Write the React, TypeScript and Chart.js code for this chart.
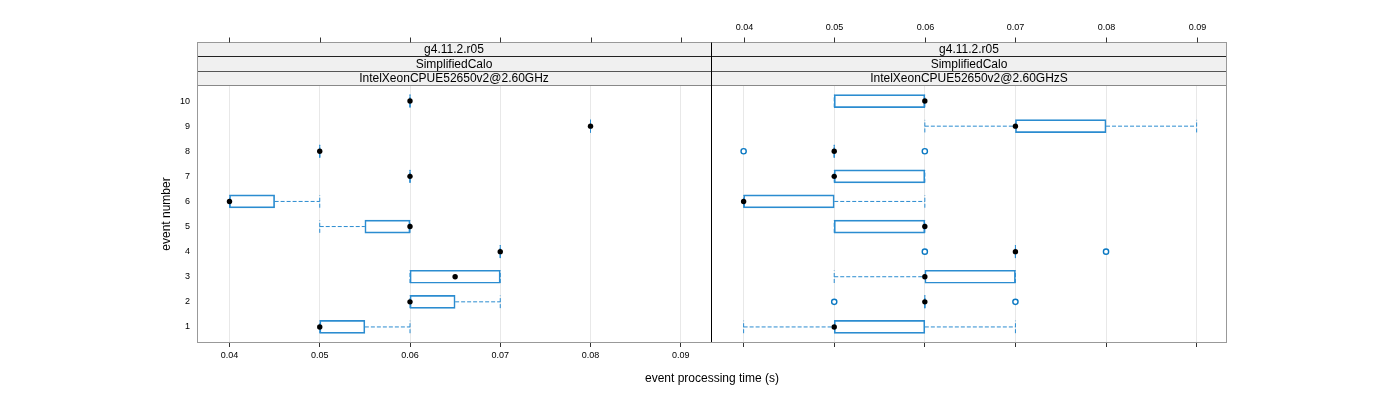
import React, { useEffect, useRef } from "react";
import { Chart, registerables } from "chart.js";

Chart.register(...registerables);

// ---------- data ----------
const events = [1, 2, 3, 4, 5, 6, 7, 8, 9, 10];
const xTickValues = [0.04, 0.05, 0.06, 0.07, 0.08, 0.09];

const stripRelease = "g4.11.2.r05";
const stripGeometry = "SimplifiedCalo";
const leftMachine = "IntelXeonCPUE52650v2@2.60GHz";
const rightMachine = "IntelXeonCPUE52650v2@2.60GHzS";

const xTitle = "event processing time (s)";
const yTitle = "event number";

// left panel (per event 1..10)
const leftLow = [0.05, 0.06, 0.06, 0.07, 0.05, 0.04, 0.06, 0.05, 0.08, 0.06];
const leftQ1 = [0.05, 0.06, 0.06, 0.07, 0.055, 0.04, 0.06, 0.05, 0.08, 0.06];
const leftMedian = [0.05, 0.06, 0.065, 0.07, 0.06, 0.04, 0.06, 0.05, 0.08, 0.06];
const leftQ3 = [0.055, 0.065, 0.07, 0.07, 0.06, 0.045, 0.06, 0.05, 0.08, 0.06];
const leftHigh = [0.06, 0.07, 0.07, 0.07, 0.06, 0.05, 0.06, 0.05, 0.08, 0.06];
const leftOutEvent: number[] = [];
const leftOutValue: number[] = [];

// right panel (per event 1..10)
const rightLow = [0.04, 0.06, 0.05, 0.07, 0.05, 0.04, 0.05, 0.05, 0.06, 0.05];
const rightQ1 = [0.05, 0.06, 0.06, 0.07, 0.05, 0.04, 0.05, 0.05, 0.07, 0.05];
const rightMedian = [0.05, 0.06, 0.06, 0.07, 0.06, 0.04, 0.05, 0.05, 0.07, 0.06];
const rightQ3 = [0.06, 0.06, 0.07, 0.07, 0.06, 0.05, 0.06, 0.05, 0.08, 0.06];
const rightHigh = [0.07, 0.06, 0.07, 0.07, 0.06, 0.06, 0.06, 0.05, 0.09, 0.06];
const rightOutEvent = [2, 2, 4, 4, 8, 8];
const rightOutValue = [0.05, 0.07, 0.06, 0.08, 0.04, 0.06];

// ---------- style ----------
const X_MIN = 0.0364;
const X_MAX = 0.09335;
const Y_MIN = 0.4;
const Y_MAX = 10.6;
const STAPLE_HALF = 0.25;
const BLUE = "#2b8cd0";
const OUT_BLUE = "#0a78c2";
const FONT = "'Liberation Sans', Arial, Helvetica, sans-serif";

type Panel = {
  low: number[];
  q1: number[];
  median: number[];
  q3: number[];
  high: number[];
  outEvent: number[];
  outValue: number[];
  strips: string[];
};

const leftPanel: Panel = {
  low: leftLow, q1: leftQ1, median: leftMedian, q3: leftQ3, high: leftHigh,
  outEvent: leftOutEvent, outValue: leftOutValue,
  strips: [stripRelease, stripGeometry, leftMachine],
};
const rightPanel: Panel = {
  low: rightLow, q1: rightQ1, median: rightMedian, q3: rightQ3, high: rightHigh,
  outEvent: rightOutEvent, outValue: rightOutValue,
  strips: [stripRelease, stripGeometry, rightMachine],
};

function dashedSeg(data: { x: number; y: number }[]) {
  return {
    type: "line",
    data,
    borderColor: BLUE,
    borderWidth: 1,
    borderDash: [4, 2],
    pointRadius: 0,
    fill: false,
    showLine: true,
    order: 5,
  };
}

function buildDatasets(p: Panel) {
  const ds: any[] = [];
  ds.push({
    type: "bar",
    indexAxis: "y",
    data: events
      .map((e, i) => ({ x: [p.q1[i], p.q3[i]], y: e }))
      .filter((d) => d.x[0] < d.x[1]),
    backgroundColor: "rgba(255,255,255,0)",
    borderColor: BLUE,
    borderWidth: 1,
    borderSkipped: false,
    barThickness: 13,
    order: 3,
  });
  ds.push({
    type: "scatter",
    data: events
      .map((e, i) => ({ x: p.q1[i], y: e, same: p.q1[i] === p.q3[i] }))
      .filter((d) => d.same)
      .map((d) => ({ x: d.x, y: d.y })),
    pointStyle: "line",
    pointRotation: 90,
    pointRadius: 6.5,
    pointBorderColor: BLUE,
    pointBorderWidth: 1,
    order: 2,
  });
  events.forEach((e, i) => {
    if (p.low[i] < p.q1[i]) ds.push(dashedSeg([{ x: p.low[i], y: e }, { x: p.q1[i], y: e }]));
    if (p.high[i] > p.q3[i]) ds.push(dashedSeg([{ x: p.q3[i], y: e }, { x: p.high[i], y: e }]));
    ds.push(dashedSeg([{ x: p.low[i], y: e - STAPLE_HALF }, { x: p.low[i], y: e + STAPLE_HALF }]));
    ds.push(dashedSeg([{ x: p.high[i], y: e - STAPLE_HALF }, { x: p.high[i], y: e + STAPLE_HALF }]));
  });
  ds.push({
    type: "scatter",
    data: p.outEvent.map((e, i) => ({ x: p.outValue[i], y: e })),
    pointStyle: "circle",
    pointRadius: 2.6,
    pointBorderColor: OUT_BLUE,
    pointBorderWidth: 1.4,
    pointBackgroundColor: "#ffffff",
    order: 1,
  });
  ds.push({
    type: "scatter",
    data: events.map((e, i) => ({ x: p.median[i], y: e })),
    pointStyle: "circle",
    pointRadius: 2.7,
    pointBorderWidth: 0,
    pointBackgroundColor: "#000000",
    order: 0,
  });
  return ds;
}

type Opts = {
  side: "left" | "right";
  padLeft: number;
  padRight: number;
  yWidth: number;
};

function decorPlugin(p: Panel, o: Opts) {
  return {
    id: "decor_" + o.side,
    afterDraw(chart: any) {
      const ctx: CanvasRenderingContext2D = chart.ctx;
      const a = chart.chartArea;
      const xs = chart.scales.x;
      ctx.save();
      // strips
      const edges = [a.top - 43.5, a.top - 29.5, a.top - 14.5, a.top - 0.5];
      ctx.fillStyle = "#f0f0f0";
      ctx.fillRect(a.left, edges[0], a.right - a.left, edges[3] - edges[0]);
      const lineCols = ["#999999", "#222222", "#555555", "#888888"];
      edges.forEach((y, i) => {
        ctx.strokeStyle = lineCols[i];
        ctx.lineWidth = 1;
        ctx.beginPath();
        ctx.moveTo(a.left, y);
        ctx.lineTo(a.right, y);
        ctx.stroke();
      });
      ctx.fillStyle = "#000";
      ctx.font = "12px " + FONT;
      ctx.textAlign = "center";
      ctx.textBaseline = "middle";
      const cx = (a.left + a.right) / 2;
      p.strips.forEach((s, i) => {
        ctx.fillText(s, cx, (edges[i] + edges[i + 1]) / 2 + 0.5);
      });
      // top ticks
      ctx.strokeStyle = "#333";
      ctx.lineWidth = 1;
      xTickValues.forEach((v) => {
        const px = Math.round(xs.getPixelForValue(v)) + 0.5;
        ctx.beginPath();
        ctx.moveTo(px, edges[0] - 5);
        ctx.lineTo(px, edges[0]);
        ctx.stroke();
      });
      if (o.side === "right") {
        ctx.font = "9px " + FONT;
        ctx.fillStyle = "#000";
        xTickValues.forEach((v) => {
          const px = Math.round(xs.getPixelForValue(v)) + 0.5;
          ctx.fillText(String(v), px, edges[0] - 15);
        });
      }
      // frame
      ctx.lineWidth = 1;
      ctx.strokeStyle = "#999999";
      ctx.beginPath();
      ctx.moveTo(a.left, a.bottom + 0.5);
      ctx.lineTo(a.right, a.bottom + 0.5);
      ctx.stroke();
      if (o.side === "left") {
        ctx.beginPath();
        ctx.moveTo(a.left + 0.5, edges[0]);
        ctx.lineTo(a.left + 0.5, a.bottom + 1);
        ctx.stroke();
        // y title
        ctx.save();
        ctx.translate(167, (a.top + a.bottom) / 2);
        ctx.rotate(-Math.PI / 2);
        ctx.font = "12px " + FONT;
        ctx.fillStyle = "#000";
        ctx.textAlign = "center";
        ctx.textBaseline = "middle";
        ctx.fillText(yTitle, 0, 0);
        ctx.restore();
      } else {
        ctx.beginPath();
        ctx.moveTo(a.right - 0.5, edges[0]);
        ctx.lineTo(a.right - 0.5, a.bottom + 1);
        ctx.stroke();
        ctx.strokeStyle = "#000";
        ctx.beginPath();
        ctx.moveTo(a.left + 0.5, edges[0]);
        ctx.lineTo(a.left + 0.5, a.bottom);
        ctx.stroke();
      }
      ctx.restore();
    },
  };
}

function makeChart(canvas: HTMLCanvasElement, p: Panel, o: Opts) {
  const isLeft = o.side === "left";
  return new Chart(canvas, {
    type: "scatter",
    data: { datasets: buildDatasets(p) },
    options: {
      animation: false,
      responsive: false,
      devicePixelRatio: 1,
      events: [],
      layout: { padding: { left: o.padLeft, right: o.padRight, top: 86, bottom: 0 } },
      plugins: { legend: { display: false }, tooltip: { enabled: false } },
      scales: {
        x: {
          type: "linear",
          position: "bottom",
          offset: false,
          min: X_MIN,
          max: X_MAX,
          afterBuildTicks: (s: any) => {
            s.ticks = xTickValues.map((v) => ({ value: v }));
          },
          afterFit: (s: any) => {
            s.height = 58;
          },
          grid: { color: "#e8e8e8", tickColor: "#333", tickLength: 5, drawTicks: true, lineWidth: 1, offset: false },
          border: { display: false },
          ticks: {
            display: isLeft,
            font: { size: 9, family: FONT },
            color: "#000",
            padding: 3,
            maxRotation: 0,
            autoSkip: false,
            callback: (v: any) => String(v),
          },
        },
        y: {
          type: "linear",
          display: isLeft,
          offset: false,
          min: Y_MIN,
          max: Y_MAX,
          afterBuildTicks: (s: any) => {
            s.ticks = events.map((v) => ({ value: v }));
          },
          afterFit: (s: any) => {
            if (isLeft) s.width = o.yWidth;
          },
          grid: { display: true, drawOnChartArea: false, drawTicks: false, offset: false },
          border: { display: false },
          ticks: {
            font: { size: 9, family: FONT },
            color: "#000",
            padding: 7,
            autoSkip: false,
            callback: (v: any) => String(v),
          },
        },
      },
    } as any,
    plugins: [decorPlugin(p, o)],
  } as any);
}

export default function App() {
  const leftRef = useRef<HTMLCanvasElement>(null);
  const rightRef = useRef<HTMLCanvasElement>(null);

  useEffect(() => {
    const c1 = makeChart(leftRef.current!, leftPanel, { side: "left", padLeft: 0, padRight: 9, yWidth: 197 });
    const c2 = makeChart(rightRef.current!, rightPanel, { side: "right", padLeft: 11, padRight: 173, yWidth: 0 });
    return () => {
      c1.destroy();
      c2.destroy();
    };
  }, []);

  return (
    <div style={{ position: "absolute", left: 0, top: 0, width: 1400, height: 400, background: "#fff" }}>
      <canvas
        ref={leftRef}
        width={720}
        height={400}
        style={{ position: "absolute", left: 0, top: 0, width: 720, height: 400 }}
      />
      <canvas
        ref={rightRef}
        width={700}
        height={400}
        style={{ position: "absolute", left: 700, top: 0, width: 700, height: 400 }}
      />
      <div
        style={{
          position: "absolute",
          left: 512,
          top: 371,
          width: 400,
          textAlign: "center",
          fontFamily: FONT,
          fontSize: 12,
          lineHeight: "14px",
          color: "#000",
        }}
      >
        {xTitle}
      </div>
    </div>
  );
}
